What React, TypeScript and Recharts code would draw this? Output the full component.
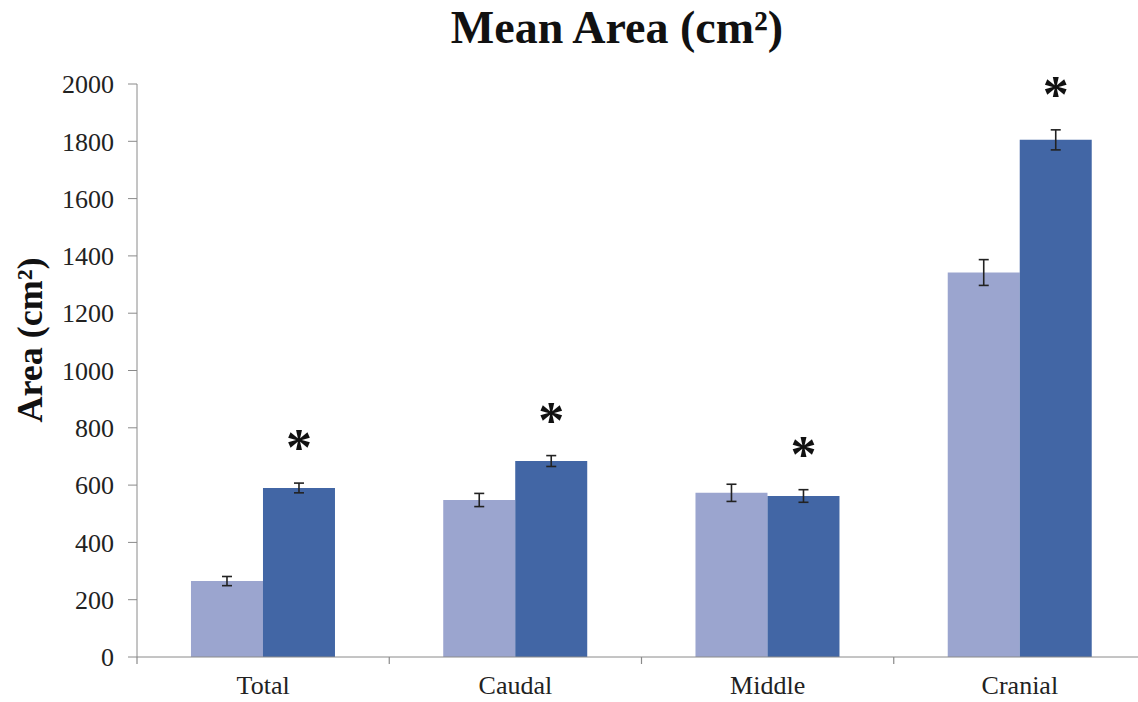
import { BarChart, Bar, XAxis, YAxis, ErrorBar, LabelList } from "recharts";

const categories = ["Total", "Caudal", "Middle", "Cranial"];
const lightValues = [265, 548, 573, 1342];
const lightErrors = [16, 23, 30, 45];
const darkValues = [590, 684, 562, 1805];
const darkErrors = [17, 19, 22, 35];
const significant = [true, true, true, true];
const yTicks = [0, 200, 400, 600, 800, 1000, 1200, 1400, 1600, 1800, 2000];

const data = categories.map((name, i) => ({
  name,
  light: lightValues[i],
  lightErr: lightErrors[i],
  dark: darkValues[i],
  darkErr: darkErrors[i],
}));

const W = 1146;
const H = 702;
const M = { top: 84, right: 0, left: 0, bottom: 0 };
const Y_AXIS_W = 137;
const X_AXIS_H = 45;
const plotH = H - M.top - M.bottom - X_AXIS_H;
const halfBand = (W - Y_AXIS_W) / categories.length / 2;
const serif = "'Liberation Serif', 'Times New Roman', serif";

const XTick = (props: any) => {
  const { x, y, payload } = props;
  return (
    <g>
      <line x1={x - halfBand} y1={y - 8} x2={x - halfBand} y2={y - 1} stroke="#8a8a8a" strokeWidth={1.2} />
      <text x={x} y={y + 29} textAnchor="middle" fontFamily={serif} fontSize={26} fill="#222">
        {payload.value}
      </text>
    </g>
  );
};

const Star = (props: any) => {
  const { x, y, width, index } = props;
  if (!significant[index]) return null;
  const errPx = (darkErrors[index] * plotH) / 2000;
  return (
    <text
      x={x + width / 2}
      y={y - errPx - 18}
      textAnchor="middle"
      fontFamily={serif}
      fontWeight="bold"
      fontSize={52}
      fill="#111"
    >
      *
    </text>
  );
};

export default function App() {
  return (
    <div style={{ position: "absolute", left: 0, top: 0, width: 1138, height: 702, overflow: "hidden", background: "#fff" }}>
      <div
        style={{
          position: "absolute",
          left: 0,
          width: 1234,
          top: 1,
          textAlign: "center",
          fontFamily: serif,
          fontWeight: "bold",
          fontSize: 46,
          color: "#111",
        }}
      >
        Mean Area (cm²)
      </div>
      <div
        style={{
          position: "absolute",
          left: 30,
          top: 340,
          transform: "translate(-50%, -50%) rotate(-90deg)",
          whiteSpace: "nowrap",
          fontFamily: serif,
          fontWeight: "bold",
          fontSize: 36,
          color: "#111",
        }}
      >
        Area (cm²)
      </div>
      <div style={{ position: "absolute", left: 0, top: 0 }}>
        <BarChart width={W} height={H} data={data} margin={M} barGap={0} barCategoryGap="21.4%">
          <XAxis
            dataKey="name"
            height={X_AXIS_H}
            stroke="#8a8a8a"
            tickLine={false}
            tick={<XTick />}
            interval={0}
          />
          <YAxis
            width={Y_AXIS_W}
            domain={[0, 2000]}
            ticks={yTicks}
            interval={0}
            stroke="#8a8a8a"
            tickSize={9}
            tick={{ fontFamily: serif, fontSize: 26, fill: "#222" }}
            tickMargin={14}
          />
          <Bar dataKey="light" fill="#9ba5cf" isAnimationActive={false}>
            <ErrorBar dataKey="lightErr" width={5} stroke="#222" strokeWidth={1.6} direction="y" />
          </Bar>
          <Bar dataKey="dark" fill="#4266a5" isAnimationActive={false}>
            <ErrorBar dataKey="darkErr" width={5} stroke="#222" strokeWidth={1.6} direction="y" />
            <LabelList dataKey="dark" content={<Star />} />
          </Bar>
        </BarChart>
      </div>
    </div>
  );
}
